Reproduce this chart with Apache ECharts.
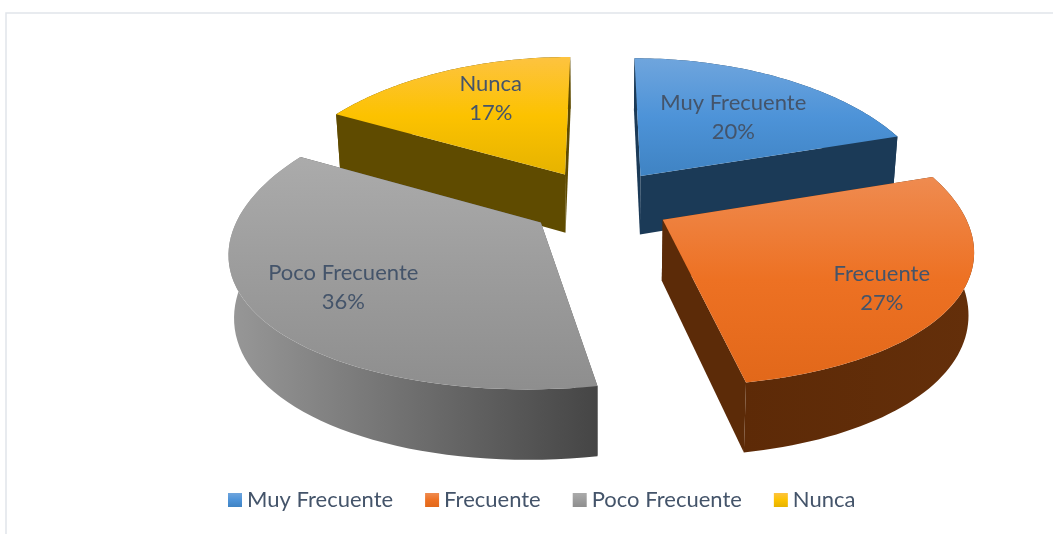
<!DOCTYPE html>
<html>
<head>
<meta charset="utf-8">
<title>Frecuencia</title>
<style>
  html, body { margin: 0; padding: 0; background: #fff; overflow: hidden; }
  #chart { width: 1053px; height: 534px; }
</style>
</head>
<body>
<div id="chart"></div>
<script src="https://cdn.jsdelivr.net/npm/echarts@6/dist/echarts.min.js"></script>
<script>
const categories = ['Muy Frecuente', 'Frecuente', 'Poco Frecuente', 'Nunca']
const shares = [20, 27, 36, 17]

// colours: top face gradient, radial wall, outer wall gradient
const topColors = [
  ['#6fa5dd', '#4d93d8', '#3f83c3'],
  ['#ef8b50', '#ed7123', '#e2681a'],
  ['#ababab', '#9c9c9c', '#8e8e8e'],
  ['#fdc340', '#fcc200', '#e6b300']
]
const wallColors = ['#1b3a57', '#5c2b08', '#555555', '#5f4b00']
const outerColors = [
  ['#1b3a57', '#1b3a57'],
  ['#5d2a07', '#642f0a'],
  ['#989898', '#454545'],
  ['#5f4b00', '#5f4b00']
]
// label spot inside each slice: share of the radius, and turn off the bisector in degrees
const labelReach = [0.59, 0.785, 0.72, 0.685]
const labelTurn = [1.7, 4.2, 0, 4.6]

// projection of the tilted disk
const cx = 600
const cy = 202.5
const rx = 297
const ry = 139.5
const perspX = 0.18
const perspY = 0.13
const explode = 0.24
const thickness = 60
const taper = 0.015

function project(u, v, z) {
  const sx = 1 / (1 - perspX * v) * (1 - taper * z)
  const sy = 1 / (1 - perspY * v)
  return [cx + rx * u * sx, cy + ry * v * sy + z * thickness * sy]
}

const total = shares.reduce((a, b) => a + b, 0)
const slices = []
let acc = 0
shares.forEach((val) => {
  const from = acc / total * Math.PI * 2
  acc += val
  slices.push({from: from, to: acc / total * Math.PI * 2})
})

function vGrad(colors) {
  return new echarts.graphic.LinearGradient(0, 0, 0, 1, [
    {offset: 0, color: colors[0]},
    {offset: 0.5, color: colors[1]},
    {offset: 1, color: colors[2]}
  ])
}

function hGrad(colors) {
  return new echarts.graphic.LinearGradient(0, 0, 1, 0, [
    {offset: 0, color: colors[0]},
    {offset: 1, color: colors[1]}
  ])
}

function poly(points, fill) {
  return {type: 'polygon', shape: {points: points}, style: {fill: fill}, silent: true}
}

function renderSlice(i, api) {
  const sl = slices[i]
  const mid = (sl.from + sl.to) / 2
  const ox = Math.sin(mid) * explode
  const oy = -Math.cos(mid) * explode
  const at = (r, a, z) => project(ox + r * Math.sin(a), oy - r * Math.cos(a), z)

  const rim = []
  const steps = 60
  for (let k = 0; k <= steps; k++) {
    rim.push(sl.from + (sl.to - sl.from) * k / steps)
  }
  const topFace = [at(0, 0, 0)].concat(rim.map((a) => at(1, a, 0)))
  const outer = rim.map((a) => at(1, a, 0)).concat(rim.slice().reverse().map((a) => at(1, a, 1)))
  const wallStart = [at(0, 0, 0), at(1, sl.from, 0), at(1, sl.from, 1), at(0, 0, 1)]
  const wallEnd = [at(0, 0, 0), at(1, sl.to, 0), at(1, sl.to, 1), at(0, 0, 1)]

  const pos = at(labelReach[i], mid + labelTurn[i] * Math.PI / 180, 0)
  return {
    type: 'group',
    children: [
      poly(wallStart, wallColors[i]),
      poly(wallEnd, wallColors[i]),
      poly(outer, hGrad(outerColors[i])),
      poly(topFace, vGrad(topColors[i])),
      {
        type: 'text',
        silent: true,
        style: {
          text: categories[i] + '\n' + api.value(0) + '%',
          x: pos[0],
          y: pos[1],
          fill: '#44546a',
          font: '22px Lato',
          lineHeight: 29,
          align: 'center',
          verticalAlign: 'middle'
        }
      }
    ]
  }
}

// far slices are painted first
const depthRank = slices
  .map((sl, i) => ({i: i, depth: -Math.cos((sl.from + sl.to) / 2)}))
  .sort((a, b) => a.depth - b.depth)
  .map((d) => d.i)

const chart = echarts.init(document.getElementById('chart'))
chart.setOption({
  animation: false,
  backgroundColor: '#fff',
  graphic: [{
    type: 'rect',
    shape: {x: 6, y: 13, width: 1200, height: 800},
    style: {fill: 'none', stroke: '#e1e5ea', lineWidth: 1.5},
    silent: true,
    z: 0
  }],
  legend: {
    left: 223,
    top: 484,
    itemWidth: 14,
    itemHeight: 14,
    itemGap: 32,
    selectedMode: false,
    icon: 'rect',
    textStyle: {color: '#44546a', fontFamily: 'Lato', fontSize: 22},
    data: categories.map((name, i) => ({
      name: name,
      itemStyle: {color: vGrad(topColors[i])}
    }))
  },
  series: categories.map((name, i) => ({
    type: 'custom',
    name: name,
    coordinateSystem: 'none',
    z: 2 + depthRank.indexOf(i),
    itemStyle: {color: topColors[i][1]},
    data: [[shares[i]]],
    renderItem: (params, api) => renderSlice(i, api)
  }))
})
</script>
</body>
</html>
